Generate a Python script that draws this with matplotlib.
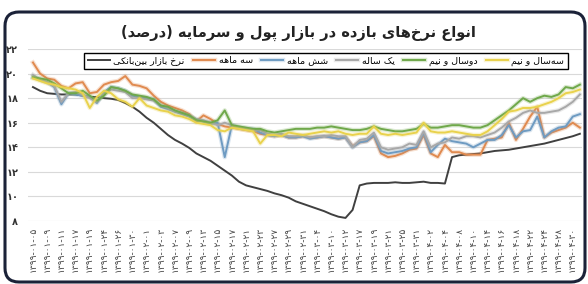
import matplotlib
matplotlib.use('Agg')
import matplotlib.pyplot as plt
import matplotlib.patheffects as pe
from matplotlib.patches import FancyBboxPatch
from matplotlib.transforms import IdentityTransform

# dates (every other trading day is labelled)
tick_dates = ['1399-01-05', '1399-01-09', '1399-01-11', '1399-01-17', '1399-01-19',
              '1399-01-24', '1399-01-26', '1399-01-30', '1399-02-01', '1399-02-03',
              '1399-02-07', '1399-02-09', '1399-02-13', '1399-02-15', '1399-02-17',
              '1399-02-21', '1399-02-23', '1399-02-27', '1399-02-29', '1399-02-31',
              '1399-03-04', '1399-03-10', '1399-03-12', '1399-03-17', '1399-03-19',
              '1399-03-21', '1399-03-25', '1399-03-31', '1399-04-02', '1399-04-04',
              '1399-04-08', '1399-04-10', '1399-04-14', '1399-04-16', '1399-04-18',
              '1399-04-22', '1399-04-24', '1399-04-28', '1399-04-30']

interbank = [18.9, 18.6, 18.4, 18.35, 18.3, 18.3, 18.3, 18.2, 18.1, 18.1,
             18.0, 17.95, 17.85, 17.6, 17.3, 16.9, 16.4, 16.0, 15.5, 15.0,
             14.6, 14.3, 13.95, 13.5, 13.2, 12.9, 12.5, 12.1, 11.7, 11.2,
             10.9, 10.75, 10.6, 10.45, 10.25, 10.1, 9.9, 9.6, 9.4, 9.2,
             9.0, 8.8, 8.55, 8.35, 8.25, 8.9, 10.9, 11.05, 11.1, 11.1,
             11.1, 11.15, 11.1, 11.1, 11.15, 11.2, 11.1, 11.1, 11.05, 13.2,
             13.35, 13.4, 13.45, 13.5, 13.6, 13.7, 13.75, 13.8, 13.9, 14.0,
             14.1, 14.2, 14.3, 14.45, 14.6, 14.75, 14.9, 15.1]
three_month = [20.9, 20.0, 19.6, 19.5, 19.0, 18.8, 19.2, 19.3, 18.4, 18.5,
               19.1, 19.3, 19.4, 19.8, 19.1, 19.0, 18.8, 18.2, 17.7, 17.4,
               17.2, 17.0, 16.7, 16.1, 16.6, 16.3, 15.9, 15.7, 15.6, 15.5,
               15.4, 15.3, 15.1, 15.0, 14.9, 15.0, 14.8, 14.8, 14.9, 14.8,
               14.8, 14.9, 14.8, 14.7, 14.8, 14.1, 14.4, 14.5, 14.9, 13.5,
               13.2, 13.3, 13.5, 13.8, 13.9, 15.0, 13.5, 13.2, 14.2, 13.6,
               13.6, 13.4, 13.4, 13.4, 14.6, 14.7, 14.8, 16.0, 14.6, 15.5,
               16.5, 17.3, 14.8, 15.2, 15.4, 15.6, 16.0, 15.6]
six_month = [19.7, 19.5, 19.3, 18.9, 17.5, 18.4, 18.3, 18.2, 18.1, 17.6,
             18.5, 18.9, 18.8, 18.6, 18.2, 18.1, 18.0, 17.9, 17.3, 17.1,
             16.9, 16.7, 16.5, 16.2, 16.1, 15.9, 16.0, 13.2, 15.8, 15.6,
             15.5, 15.5, 15.2, 15.0, 14.9, 15.0, 14.8, 14.8, 14.9, 14.7,
             14.8, 14.9, 14.8, 14.7, 14.8, 14.0, 14.4, 14.5, 15.0, 13.7,
             13.5, 13.6, 13.7, 13.9, 14.0, 15.2, 13.6, 14.2, 14.7, 14.5,
             14.4, 14.3, 14.0, 14.3, 14.6, 14.6, 15.0, 15.8, 14.8, 15.3,
             15.4, 16.5, 14.8, 15.3, 15.6, 15.7, 16.5, 16.7]
one_year = [19.9, 19.5, 19.3, 19.0, 17.7, 18.4, 18.5, 18.3, 18.0, 17.7,
            18.3, 18.7, 18.6, 18.5, 18.0, 18.0, 17.9, 17.8, 17.4, 17.2,
            16.9, 16.8, 16.6, 16.3, 16.2, 16.0, 15.8, 16.0, 15.8, 15.6,
            15.5, 15.4, 15.4, 15.1, 15.0, 15.1, 14.9, 14.9, 15.0, 14.8,
            14.9, 14.9, 15.0, 14.9, 14.9, 14.0, 14.6, 14.7, 15.2, 14.0,
            13.8, 13.9, 14.0, 14.3, 14.2, 15.3, 14.0, 14.3, 14.4, 14.8,
            14.7, 14.9, 14.9, 14.8, 15.0, 15.2, 15.6, 16.1, 16.4, 16.8,
            17.0, 16.8, 16.8, 16.9, 17.0, 17.3, 17.7, 18.3]
two_half_year = [19.7, 19.6, 19.5, 19.2, 18.8, 18.4, 18.4, 18.6, 18.2, 17.8,
                 18.2, 18.9, 18.8, 18.6, 18.3, 18.2, 18.1, 17.9, 17.4, 17.3,
                 17.0, 16.8, 16.6, 16.2, 16.1, 16.0, 16.2, 17.0, 15.8, 15.7,
                 15.6, 15.5, 15.5, 15.3, 15.2, 15.3, 15.4, 15.5, 15.5, 15.5,
                 15.6, 15.6, 15.7, 15.6, 15.5, 15.4, 15.4, 15.5, 15.7, 15.5,
                 15.4, 15.3, 15.3, 15.4, 15.5, 15.9, 15.6, 15.6, 15.7, 15.8,
                 15.8, 15.7, 15.6, 15.6, 15.8, 16.2, 16.6, 17.0, 17.5, 18.0,
                 17.7, 18.0, 18.2, 18.1, 18.3, 18.9, 18.8, 19.1]
three_half_year = [19.6, 19.4, 19.2, 19.1, 18.9, 18.8, 18.7, 18.4, 17.2, 18.1,
                   18.6, 18.4, 17.9, 17.7, 17.3, 18.0, 17.4, 17.2, 17.0, 16.9,
                   16.6, 16.5, 16.3, 16.0, 15.9, 15.8, 15.4, 15.3, 15.6, 15.5,
                   15.4, 15.3, 14.3, 15.0, 15.0, 14.9, 15.2, 15.1, 15.0, 15.1,
                   15.2, 15.3, 15.2, 15.3, 15.1, 15.0, 15.1, 15.1, 15.7, 15.1,
                   15.0, 15.1, 15.0, 15.1, 15.2, 16.0, 15.3, 15.2, 15.2, 15.3,
                   15.2, 15.1, 15.0, 15.0, 15.3, 15.8, 16.3, 16.9, 17.0, 17.2,
                   17.2, 17.3, 17.5, 17.7, 18.0, 18.4, 18.5, 18.7]

series_names = ['نرخ بازار بین‌بانکی', 'سه ماهه', 'شش ماهه', 'یک ساله',
                'دوسال و نیم', 'سه‌سال و نیم']
title = 'انواع نرخ‌های بازده در بازار پول و سرمایه (درصد)'
y_ticks = [8, 10, 12, 14, 16, 18, 20, 22]

# --- minimal Persian shaping (matplotlib has no complex text layout) ---
FORMS = {
    'ا': ('\uFE8D', '\uFE8E', None, None),
    'ب': ('\uFE8F', '\uFE90', '\uFE91', '\uFE92'),
    'خ': ('\uFEA5', '\uFEA6', '\uFEA7', '\uFEA8'),
    'د': ('\uFEA9', '\uFEAA', None, None),
    'ر': ('\uFEAD', '\uFEAE', None, None),
    'ز': ('\uFEAF', '\uFEB0', None, None),
    'س': ('\uFEB1', '\uFEB2', '\uFEB3', '\uFEB4'),
    'ش': ('\uFEB5', '\uFEB6', '\uFEB7', '\uFEB8'),
    'ص': ('\uFEB9', '\uFEBA', '\uFEBB', '\uFEBC'),
    'ع': ('\uFEC9', '\uFECA', '\uFECB', '\uFECC'),
    'ل': ('\uFEDD', '\uFEDE', '\uFEDF', '\uFEE0'),
    'م': ('\uFEE1', '\uFEE2', '\uFEE3', '\uFEE4'),
    'ن': ('\uFEE5', '\uFEE6', '\uFEE7', '\uFEE8'),
    'ه': ('\uFEE9', '\uFEEA', '\uFEEB', '\uFEEC'),
    'و': ('\uFEED', '\uFEEE', None, None),
    'پ': ('\uFB56', '\uFB57', '\uFB58', '\uFB59'),
    'ک': ('\uFB8E', '\uFB8F', '\uFB90', '\uFB91'),
    'ی': ('\uFBFC', '\uFBFD', '\uFBFE', '\uFBFF'),
}


def fa(text):
    out = []
    for k, c in enumerate(text):
        if c not in FORMS:
            out.append(c)
            continue
        prev = text[k - 1] if k > 0 else ''
        nxt = text[k + 1] if k + 1 < len(text) else ''
        j_prev = prev in FORMS and FORMS[prev][2] is not None
        j_next = nxt in FORMS and FORMS[c][2] is not None
        iso, fin, ini, med = FORMS[c]
        if j_prev and j_next:
            out.append(med)
        elif j_prev:
            out.append(fin)
        elif j_next:
            out.append(ini)
        else:
            out.append(iso)
    s = ''.join(ch for ch in out if ch != '\u200c')[::-1]
    return s.translate(str.maketrans('()', ')('))


def fa_digits(s):
    return str(s).translate(str.maketrans('0123456789', '۰۱۲۳۴۵۶۷۸۹'))


plt.rcParams['font.family'] = ['DejaVu Sans']

fig = plt.figure(figsize=(5.88, 2.84), dpi=100)
ax = fig.add_axes([28 / 588, 1 - 221 / 284, 554 / 588, 172 / 284])

colors = ['#404040', '#E08A4F', '#6E9BC2', '#A8A8A8', '#6FA84A', '#E9D24C']
all_series = [interbank, three_month, six_month, one_year, two_half_year, three_half_year]
x = list(range(len(interbank)))

for vals, col, name in zip(all_series, colors, series_names):
    effects = [pe.Stroke(linewidth=3.2, foreground=col, alpha=0.25), pe.Normal()]
    if col == '#404040':
        effects = None
    ax.plot(x, vals, color=col, lw=1.4, label=fa(name), path_effects=effects)

ax.set_xlim(-0.7, 77.3)
ax.set_ylim(8, 22)
ax.set_yticks(y_ticks)
ax.set_yticklabels([fa_digits(v) for v in y_ticks], fontsize=7, fontweight='bold', color='#333333')
ax.set_xticks(range(0, 2 * len(tick_dates), 2))
ax.set_xticklabels([fa_digits(d) for d in tick_dates], rotation=90, fontsize=6.5, color='#444444')
ax.tick_params(length=0)
ax.tick_params(axis='y', pad=7)
ax.tick_params(axis='x', pad=4)
ax.grid(axis='y', color='#D9D9D9', lw=0.8)
ax.set_axisbelow(True)
for s in ax.spines.values():
    s.set_visible(False)

leg = ax.legend(loc='center', bbox_to_anchor=(326 / 588, 1 - 61 / 284),
                bbox_transform=fig.transFigure, ncol=6, fontsize=6.8,
                frameon=True, fancybox=False, edgecolor='black', framealpha=1,
                handlelength=2.3, handletextpad=0.4, columnspacing=0.9,
                borderpad=0.4)
leg.get_frame().set_linewidth(1.0)

fig.text(298 / 588, 1 - 33 / 284, fa(title), ha='center', va='center',
         fontsize=10.5, fontweight='bold', color='#222222')

border = FancyBboxPatch((5, 2), 580, 270, boxstyle='round,pad=0,rounding_size=14',
                        transform=IdentityTransform(), fill=False,
                        edgecolor='#1B2238', lw=2.2)
fig.add_artist(border)

fig.savefig('out.png', dpi=100)
